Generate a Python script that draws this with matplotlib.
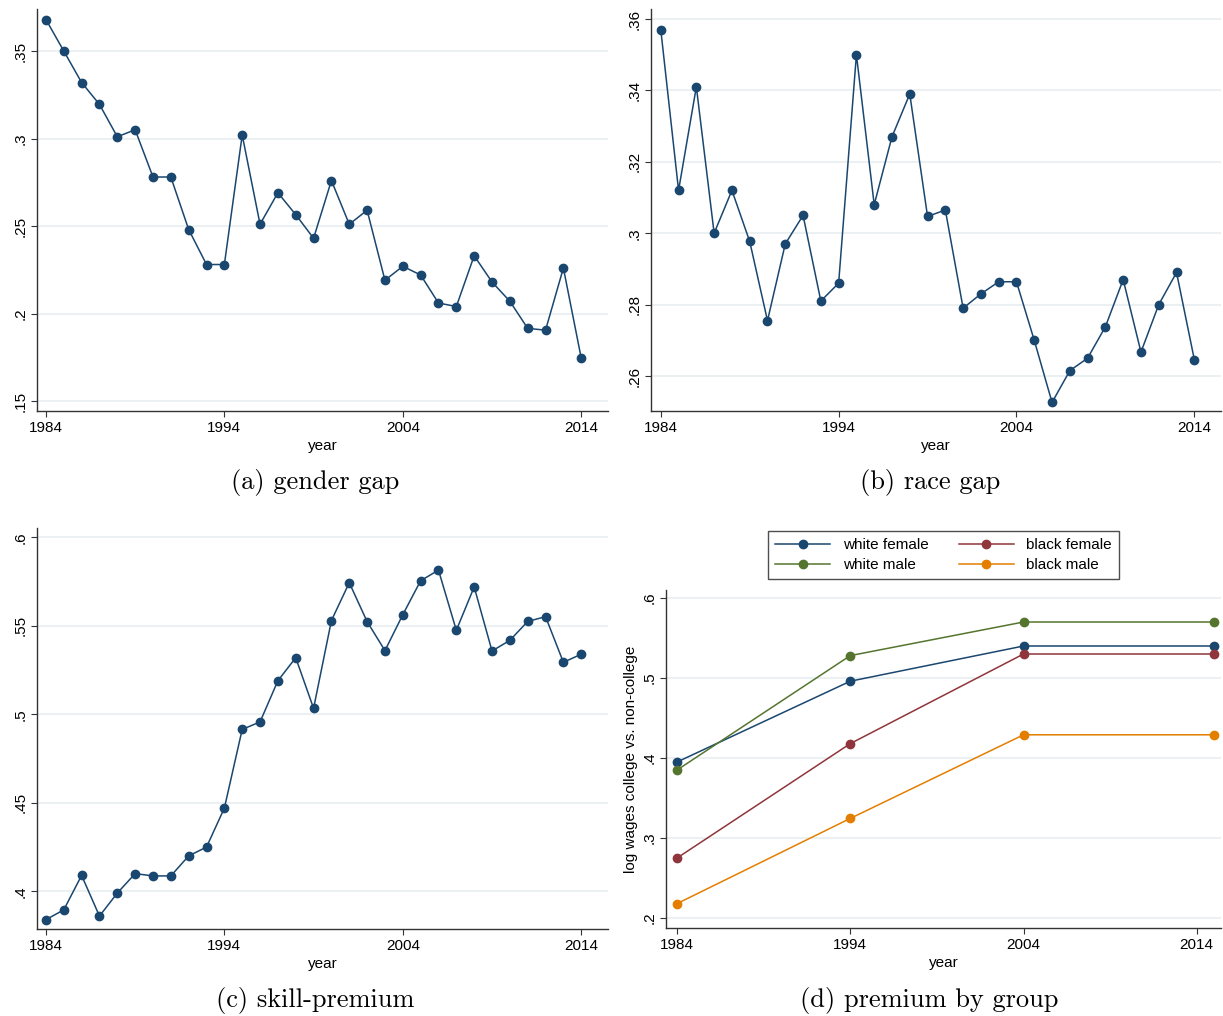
import numpy as np
import matplotlib
matplotlib.use("Agg")
import matplotlib.pyplot as plt

plt.rcParams['font.family'] = ['Liberation Sans', 'DejaVu Sans']

# data
years = list(range(1984, 2015))

gender_gap = [0.368, 0.350, 0.332, 0.3195, 0.301, 0.305, 0.278, 0.278, 0.248, 0.228,
              0.228, 0.302, 0.251, 0.269, 0.2565, 0.243, 0.276, 0.251, 0.259, 0.219,
              0.227, 0.222, 0.206, 0.204, 0.233, 0.218, 0.207, 0.1915, 0.1905, 0.226,
              0.1745]

race_gap = [0.357, 0.312, 0.341, 0.300, 0.312, 0.2977, 0.2755, 0.297, 0.305, 0.281,
            0.286, 0.350, 0.308, 0.327, 0.339, 0.3047, 0.3065, 0.279, 0.283, 0.2864,
            0.2864, 0.270, 0.2526, 0.2615, 0.265, 0.2738, 0.287, 0.2667, 0.280, 0.289,
            0.2646]

skill_premium = [0.384, 0.3895, 0.409, 0.386, 0.399, 0.410, 0.4087, 0.4087, 0.420, 0.425,
                 0.447, 0.4915, 0.4957, 0.519, 0.532, 0.5034, 0.553, 0.5744, 0.5524, 0.536,
                 0.5563, 0.5755, 0.5815, 0.5475, 0.572, 0.5358, 0.5418, 0.5525, 0.5552,
                 0.5294, 0.534]

group_years = [1984, 1994, 2004, 2015]
white_female = [0.395, 0.496, 0.540, 0.540]
white_male = [0.385, 0.528, 0.570, 0.570]
black_female = [0.275, 0.418, 0.530, 0.530]
black_male = [0.218, 0.3245, 0.429, 0.429]

year_ticks = [1984, 1994, 2004, 2014]
gender_ticks = [0.15, 0.2, 0.25, 0.3, 0.35]
gender_labels = ['.15', '.2', '.25', '.3', '.35']
race_ticks = [0.26, 0.28, 0.30, 0.32, 0.34, 0.36]
race_labels = ['.26', '.28', '.3', '.32', '.34', '.36']
skill_ticks = [0.4, 0.45, 0.5, 0.55, 0.6]
skill_labels = ['.4', '.45', '.5', '.55', '.6']
group_ticks = [0.2, 0.3, 0.4, 0.5, 0.6]
group_labels = ['.2', '.3', '.4', '.5', '.6']

NAVY = '#1a476f'
MAROON = '#90353b'
GREEN = '#55752f'
ORANGE = '#e37e00'
GRID = '#e8eff1'
FS = 11

W, H = 1223, 1016
fig = plt.figure(figsize=(W / 100, H / 100), dpi=100)


def rect(l, t, r, b):
    return [l / W, 1 - b / H, (r - l) / W, (b - t) / H]


def style_axes(ax, yticks, ylabels, ylim, xlim):
    ax.set_xlim(*xlim)
    ax.set_ylim(*ylim)
    ax.set_xticks(year_ticks)
    ax.set_xticklabels([str(y) for y in year_ticks], fontsize=FS)
    ax.set_yticks(yticks)
    ax.set_yticklabels(ylabels, fontsize=FS, rotation=90, va='center')
    for s in ['top', 'right']:
        ax.spines[s].set_visible(False)
    for s in ['left', 'bottom']:
        ax.spines[s].set_color('#333333')
        ax.spines[s].set_linewidth(1.0)
    ax.tick_params(direction='out', length=4, width=0.8, color='#333333', pad=3)
    ax.yaxis.grid(True, color=GRID, linewidth=1.2)
    ax.set_axisbelow(True)
    ax.set_xlabel('year', fontsize=FS, labelpad=3)


line_kw = dict(marker='o', markersize=6, linewidth=1.1)

# (a) gender gap
ax = fig.add_axes(rect(37, 9, 608, 411))
ax.plot(years, gender_gap, color=NAVY, **line_kw)
style_axes(ax, gender_ticks, gender_labels, (0.1443, 0.374), (1983.5, 2015.5))

# (b) race gap
ax = fig.add_axes(rect(651, 9, 1221, 411))
ax.plot(years, race_gap, color=NAVY, **line_kw)
style_axes(ax, race_ticks, race_labels, (0.2502, 0.3628), (1983.45, 2015.5))

# (c) skill premium
ax = fig.add_axes(rect(37, 528, 608, 929))
ax.plot(years, skill_premium, color=NAVY, **line_kw)
style_axes(ax, skill_ticks, skill_labels, (0.3787, 0.6053), (1983.5, 2015.5))

# (d) premium by group
ax = fig.add_axes(rect(666, 590, 1221, 928))
ax.plot(group_years, white_female, color=NAVY, label='white female', **line_kw)
ax.plot(group_years, white_male, color=GREEN, label='white male', **line_kw)
ax.plot(group_years, black_female, color=MAROON, label='black female', **line_kw)
ax.plot(group_years, black_male, color=ORANGE, label='black male', **line_kw)
style_axes(ax, group_ticks, group_labels, (0.1875, 0.61), (1983.36, 2015.4))
ax.set_ylabel('log wages college vs. non-college', fontsize=FS, labelpad=3)
leg = ax.legend(ncol=2, loc='lower center', bbox_to_anchor=(0.5, 1.01),
                frameon=True, fancybox=False, fontsize=FS, handlelength=3.6,
                columnspacing=2.0, borderpad=0.45, labelspacing=0.4,
                handletextpad=0.8)
leg.get_frame().set_edgecolor('#222222')
leg.get_frame().set_linewidth(1.0)

# captions
cap_kw = dict(fontsize=19, family='cmr10', ha='center', va='center')
fig.text(315 / W, 1 - 482 / H, '(a) gender gap', **cap_kw)
fig.text(930 / W, 1 - 482 / H, '(b) race gap', **cap_kw)
fig.text(315 / W, 1 - 1000 / H, '(c) skill-premium', **cap_kw)
fig.text(929 / W, 1 - 1000 / H, '(d) premium by group', **cap_kw)

fig.savefig('out.png', dpi=100)
